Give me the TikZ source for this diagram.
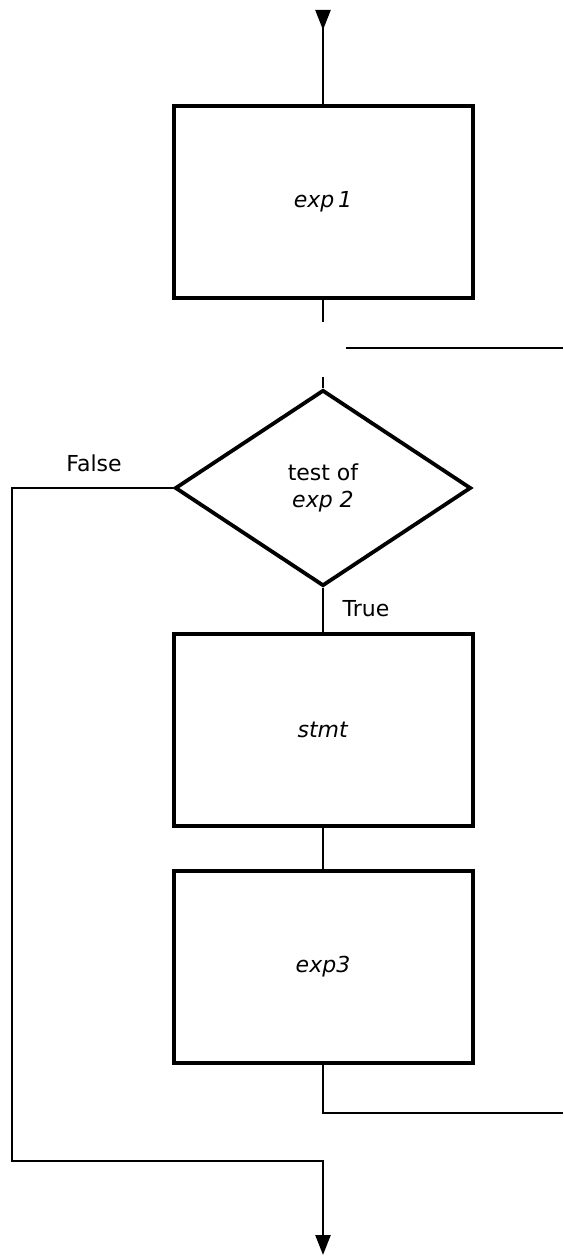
\documentclass[tikz,border=0pt]{standalone}
\usepackage{fontspec}
\setmainfont{DejaVu Sans}
\usetikzlibrary{arrows.meta}
\usetikzlibrary{shapes.geometric}

\begin{document}
\begin{tikzpicture}[x=.5pt, y=-.5pt,
  every node/.append style={font=\fontsize{11}{13.5}\selectfont},
  box/.style={draw, line width=2pt, minimum width=149.5pt, minimum height=96pt},
  decision/.style={draw, diamond, line width=1.9pt, minimum width=148pt, minimum height=98pt, inner sep=0pt, align=center},
  flow/.style={line width=1.2pt},
  tip/.style={-{Triangle[length=10pt,width=7.5pt]}}]
\useasboundingbox (0,0) rectangle (563,1256);

\node[box] (exp1) at (323,202) {\textit{exp\,1}};
\node[decision] (cond) at (323,488) {test of\\\textit{exp 2}};
\node[box] (stmt) at (323,730) {\textit{stmt}};
\node[box] (exp3) at (323,967) {\textit{exp3}};
\node (false) at (94,463) {False};
\node (true) at (366,609) {True};

\coordinate (start) at (323,10);
\coordinate (head) at (323,30);
\coordinate (exp1 out) at (323,322);
\coordinate (back in) at (346,348);
\coordinate (back edge) at (563,348);
\coordinate (cond in) at (323,377);
\coordinate (loop) at (323,1113);
\coordinate (loop edge) at (563,1113);
\coordinate (false left) at (12,488);
\coordinate (join) at (323,1161);
\coordinate (exit) at (323,1255);

\draw[flow] (start) -- (exp1.north);
\draw[flow,tip] (start) -- (head);
\draw[flow] (exp1.south) -- (exp1 out);
\draw[flow] (back in) -- (back edge);
\draw[flow] (cond in) -- (cond.north);
\draw[flow] (cond.south) -- (stmt.north);
\draw[flow] (stmt.south) -- (exp3.north);
\draw[flow] (exp3.south) -- (loop) -- (loop edge);
\draw[flow,tip] (cond.west) -- (false left) |- (join) -- (exit);
\end{tikzpicture}
\end{document}
